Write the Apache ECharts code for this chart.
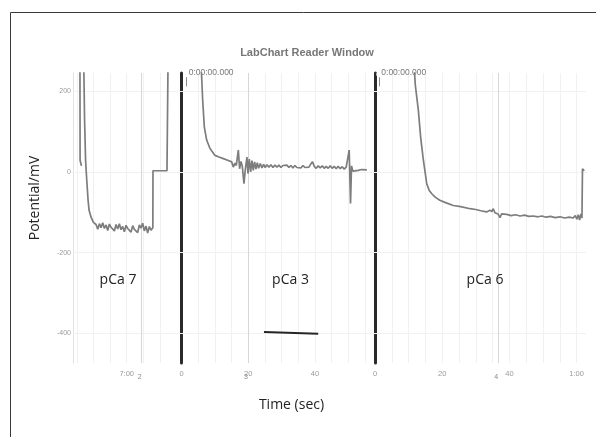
<!DOCTYPE html>
<html><head><meta charset="utf-8">
<script src="https://cdn.jsdelivr.net/npm/echarts@6/dist/echarts.min.js"></script>
<style>html,body{margin:0;padding:0;background:#fff}#c{width:596px;height:437px}</style>
</head><body><div id="c"></div>
<script>
// ---- data ----
const chartTitle = 'LabChart Reader Window';
const yName = 'Potential/mV';
const xName = 'Time (sec)';
const panelNames = ['pCa 7', 'pCa 3', 'pCa 6'];
const yRange = [-473, 245];
const yTickValues = [-400, -200, 0, 200];
const panel1Range = [403.87, 435.26];
const panel2Range = [-1.26, 57.0];
const panel3Range = [-1.04, 62.8];
const panel1Grid = [405, 410, 415, 420, 425, 430];
const panel2Grid = [5, 10, 15, 20, 25, 30, 35, 40, 45, 50, 55];
const panel3Grid = [5, 10, 15, 20, 25, 30, 35, 40, 45, 50, 55, 60];
const panel1Labels = [420];
const panel2Labels = [0, 20, 40];
const panel3Labels = [0, 20, 40, 60];
const commentTimes = [424.5, 19.9, 36.7];
const commentNames = ['2', '3', '4'];
const startTimes = [1.5, 1.28];
const startLabel = '0:00:00.000';
const scaleBar = [[24.7, -396.5], [41.0, -400.5]];

const panel1Trace = [
  [405.95, 300], [406.0, 29], [406.4, 15], [406.5, '-'],
  [407.05, 300], [407.35, 128], [407.65, 29], [408.0, -20], [408.4, -70], [408.7, -95],
  [409.3, -112], [410.0, -125], [410.8, -130],
  [411.3, -142], [411.8, -128], [412.3, -138], [412.8, -126], [413.3, -140], [413.8, -131],
  [414.3, -145], [414.8, -129], [415.3, -137], [415.8, -133], [416.3, -146], [416.8, -130],
  [417.3, -141], [417.8, -128], [418.3, -143], [418.8, -135], [419.3, -148], [419.8, -132],
  [420.3, -140], [420.8, -136], [421.3, -149], [421.8, -133], [422.3, -142], [422.8, -138],
  [423.3, -150], [423.8, -131], [424.3, -139], [424.8, -127], [425.3, -146], [425.8, -134],
  [426.3, -151], [426.8, -135], [427.3, -144], [427.85, -138],
  [427.9, 3], [432.1, 3], [432.2, 7], [432.35, 4], [432.45, 300]
];
const panel2Trace = [
  [5.65, 300], [6.3, 178], [6.8, 111], [7.5, 79], [8.5, 58], [10.0, 41], [11.2, 37], [12.5, 33],
  [13.8, 29], [15.0, 25], [15.5, 12], [16.0, 22], [16.4, 16], [17.0, 54], [17.4, 8], [17.8, 26],
  [18.2, 14], [18.7, -29], [19.1, 6], [19.6, 37], [19.9, -4], [20.3, 32], [20.7, 0], [21.1, 28],
  [21.5, 4], [21.9, 25], [22.3, 7], [22.7, 23], [23.1, 9], [23.6, 21], [24.1, 10], [24.6, 19],
  [25.1, 11], [25.6, 18], [26.2, 12], [26.8, 18], [27.4, 11], [28.0, 17], [28.6, 12], [29.2, 17],
  [29.8, 11], [30.4, 16], [31.0, 12], [31.6, 17], [32.2, 11], [32.8, 16], [33.4, 10], [34.0, 16],
  [34.6, 11], [35.2, 15], [35.8, 10], [36.4, 16], [37.0, 11], [37.6, 15], [38.2, 12], [38.8, 20],
  [39.3, 25], [39.8, 14], [40.4, 9], [41.0, 15], [41.6, 10], [42.2, 15], [42.8, 9], [43.4, 14],
  [44.0, 9], [44.6, 15], [45.2, 9], [45.8, 14], [46.4, 8], [47.0, 14], [47.6, 8], [48.2, 13],
  [48.8, 7], [49.4, 12], [49.9, 8], [50.3, 54], [50.7, -78], [51.0, 15], [51.4, 2], [52.0, 5],
  [53.0, 4], [54.0, 6], [55.6, 5]
];
const panel3Trace = [
  [11.35, 300], [12.0, 215], [12.9, 153], [13.6, 85], [14.4, 29], [15.4, -29], [16.1, -45],
  [16.9, -54], [18.0, -63], [19.3, -70], [21.0, -76], [23.3, -83], [25.5, -86], [28.3, -91],
  [30.0, -93], [31.5, -96], [33.2, -99], [34.2, -95], [34.8, -98], [35.2, -91], [35.7, -101],
  [36.0, -97], [36.6, -104], [37.2, -113], [37.7, -104], [38.2, -108], [39.2, -105], [40.5, -108],
  [41.8, -106], [43.2, -109], [44.5, -107], [45.8, -110], [47.1, -109], [48.5, -111], [49.7, -109],
  [50.9, -112], [52.3, -110], [53.6, -113], [55.1, -111], [56.4, -114], [57.8, -112], [59.0, -114],
  [59.6, -108], [60.1, -117], [60.5, -106], [60.9, -119], [61.3, -104], [61.6, -114],
  [61.75, 8], [62.3, 3]
];

// ---- chart ----
const chart = echarts.init(document.getElementById('c'), null, {renderer: 'canvas'});
const GRID_COLOR = '#f1f1f1';
const TRACE_COLOR = '#7d7d7d';
const lblFont = 'Liberation Sans';

function fmtTime(v) {
  if (v >= 60) { const m = Math.floor(v / 60); const s = Math.round(v - m * 60); return m + ':' + (s < 10 ? '0' + s : s); }
  return String(v);
}

const grids = [
  {left: 73, top: 73, width: 104.5, height: 290},
  {left: 177.5, top: 73, width: 194, height: 290},
  {left: 371.5, top: 73, width: 214.5, height: 290}
];
const ranges = [panel1Range, panel2Range, panel3Range];
const labelSets = [panel1Labels, panel2Labels, panel3Labels];
const gridSets = [panel1Grid, panel2Grid, panel3Grid];
const traces = [panel1Trace, panel2Trace, panel3Trace];

const xAxes = ranges.map((r, i) => ({
  type: 'value', gridIndex: i, min: r[0], max: r[1],
  axisLine: {show: true, lineStyle: {color: '#dcdcdc', width: 1}},
  axisTick: {show: false},
  splitLine: {show: false},
  axisLabel: {
    customValues: labelSets[i], color: '#9a9a9a', fontSize: 7.5, fontFamily: lblFont, margin: 7,
    formatter: v => fmtTime(v)
  }
}));
const yAxes = grids.map((g, i) => ({
  type: 'value', gridIndex: i, min: yRange[0], max: yRange[1],
  axisLine: i === 0 ? {show: true, lineStyle: {color: '#e2e2e2', width: 1}}
                    : {show: true, lineStyle: {color: '#2a2a2a', width: 3}},
  axisTick: {show: false},
  splitLine: {show: false},
  axisLabel: i === 0 ? {customValues: yTickValues, color: '#9a9a9a', fontSize: 7, fontFamily: lblFont, margin: 2}
                     : {show: false}
}));

const series = [];
gridSets.forEach((gs, i) => {
  const ml = [];
  gs.forEach(v => ml.push({xAxis: v}));
  yTickValues.forEach(v => ml.push({yAxis: v}));
  series.push({
    type: 'line', xAxisIndex: i, yAxisIndex: i, data: [], z: 1, silent: true,
    markLine: {
      silent: true, symbol: ['none', 'none'], animation: false,
      lineStyle: {color: GRID_COLOR, width: 1, type: 'solid'},
      label: {show: false}, data: ml
    }
  });
  series.push({
    type: 'line', xAxisIndex: i, yAxisIndex: i, data: [], z: 2, silent: true,
    markLine: {
      silent: true, symbol: ['none', 'none'], animation: false,
      lineStyle: {color: '#d6d6d6', width: 1, type: 'solid'},
      label: {show: true, position: 'start', formatter: commentNames[i], color: '#888', fontSize: 7,
              fontFamily: lblFont, distance: 11, offset: [-2, 0]},
      data: [{xAxis: commentTimes[i]}]
    }
  });
  const s = {
    type: 'line', xAxisIndex: i, yAxisIndex: i, data: traces[i], z: 5,
    showSymbol: false, clip: true, animation: false, silent: true,
    lineStyle: {color: TRACE_COLOR, width: 1.7}
  };
  if (i > 0) {
    const t = startTimes[i - 1];
    s.markLine = {
      silent: true, symbol: ['none', 'none'], animation: false,
      lineStyle: {color: '#8a8a8a', width: 1, type: 'solid'}, label: {show: false},
      data: [[{coord: [t, 240]}, {coord: [t, 212]}]]
    };
    s.markPoint = {
      silent: true, animation: false,
      data: [{coord: [t, 242], symbol: 'emptyCircle', symbolSize: 4,
              itemStyle: {color: '#fff', borderColor: '#8a8a8a', borderWidth: 1},
              label: {show: true, position: 'right', distance: -1, offset: [0, -2], formatter: startLabel,
                      color: '#777', fontSize: 8.5, fontFamily: lblFont}}]
    };
  }
  series.push(s);
});
series.push({
  type: 'line', xAxisIndex: 1, yAxisIndex: 1, data: scaleBar, z: 6, showSymbol: false,
  animation: false, silent: true, lineStyle: {color: '#262626', width: 2}
});

const textStyleBig = {fontFamily: 'Open Sans', fontSize: 14, fill: '#222'};
function txt(x, y, text, rot) {
  return {type: 'text', x: x, y: y, rotation: rot || 0, z: 100, zlevel: 0,
          style: Object.assign({text: text, textAlign: 'center', textVerticalAlign: 'middle',
                                backgroundColor: 'transparent'}, textStyleBig)};
}
chart.setOption({
  animation: false,
  backgroundColor: '#fff',
  title: {
    text: chartTitle, left: 302, top: 42, textAlign: 'center',
    textStyle: {color: '#777', fontSize: 11, fontWeight: 'bold', fontFamily: lblFont}
  },
  grid: grids,
  xAxis: xAxes,
  yAxis: yAxes,
  series: series,
  graphic: [
    {type: 'polyline', shape: {points: [[10.5, 437], [10.5, 12.5], [596, 12.5]]}, z: 100,
     style: {stroke: '#3a3a3a', lineWidth: 1, fill: null}, silent: true},
    txt(35, 198, yName, Math.PI / 2),
    txt(291.5, 405, xName),
    txt(118, 280, panelNames[0]),
    txt(290.5, 280, panelNames[1]),
    txt(485, 280, panelNames[2])
  ]
});
</script></body></html>
